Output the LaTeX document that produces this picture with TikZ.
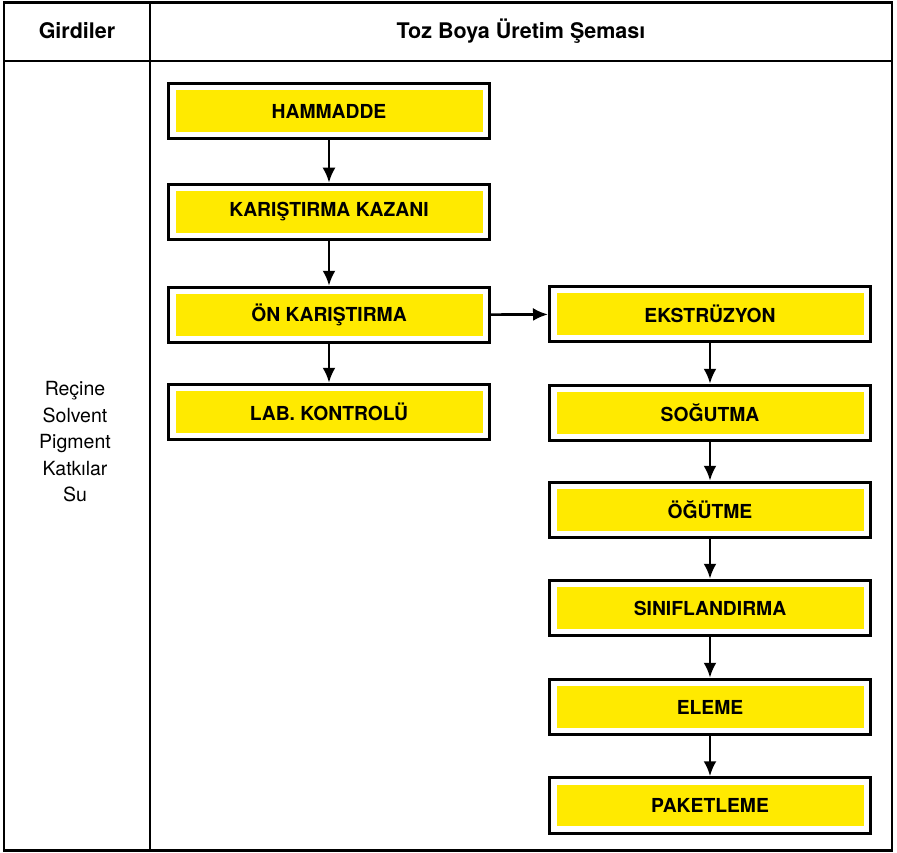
\documentclass[tikz,border=0pt]{standalone}
\usepackage{fontspec}
\setmainfont{TeX Gyre Heros}
\usetikzlibrary{arrows.meta,positioning}
\definecolor{boxyellow}{RGB}{255,234,0}

\tikzset{
    stepbox/.style={draw, line width=3pt, fill=white,
        minimum width=321pt, minimum height=55.5pt, inner sep=0pt,
        font=\fontsize{19.3}{22}\selectfont\bfseries,
        path picture={\fill[boxyellow]
            ([shift={(7pt,7pt)}]path picture bounding box.south west) rectangle
            ([shift={(-7pt,-7pt)}]path picture bounding box.north east);}},
    flow/.style={draw, line width=2.6pt, -{Latex[length=15pt,width=13pt]}},
    headtext/.style={font=\fontsize{21.5}{24}\selectfont\bfseries}
}

\begin{document}
\begin{tikzpicture}[x=1pt,y=-1pt]
    \useasboundingbox (0,0) rectangle (897,853);

    % table frame
    \draw[line width=2.8pt] (4,2.5) rectangle (892,850.5);
    \draw[line width=2.8pt] (4,61) -- (892,61);
    \draw[line width=2.8pt] (150,2.5) -- (150,850.5);

    \node [headtext] (girdi) at (77,31) {Girdiler};
    \node [headtext] (sema) at (521,31) {Toz Boya Üretim Şeması};
    \node [align=center, font=\fontsize{19.5}{26.5}\selectfont] (inputs) at (75,442)
        {Reçine\\Solvent\\Pigment\\Katkılar\\Su};

    % left column
    \node [stepbox] (h1) at (329,111) {HAMMADDE};
    \node [stepbox] (h2) at (329,212) {KARIŞTIRMA KAZANI};
    \node [stepbox] (h3) at (329,315) {ÖN KARIŞTIRMA};
    \node [stepbox] (h4) at (329,412) {LAB. KONTROLÜ};

    % right column
    \node [stepbox] (p1) at (710,314) {EKSTRÜZYON};
    \node [stepbox] (p2) at (710,413) {SOĞUTMA};
    \node [stepbox] (p3) at (710,510) {ÖĞÜTME};
    \node [stepbox] (p4) at (710,608) {SINIFLANDIRMA};
    \node [stepbox] (p5) at (710,707) {ELEME};
    \node [stepbox] (p6) at (710,805.5) {PAKETLEME};

    \draw[every edge/.style={flow}]
        (h1) edge (h2)
        (h2) edge (h3)
        (h3) edge (h4)
        (h3) edge (p1)
        (p1) edge (p2)
        (p2) edge (p3)
        (p3) edge (p4)
        (p4) edge (p5)
        (p5) edge (p6)
        ;
\end{tikzpicture}
\end{document}
